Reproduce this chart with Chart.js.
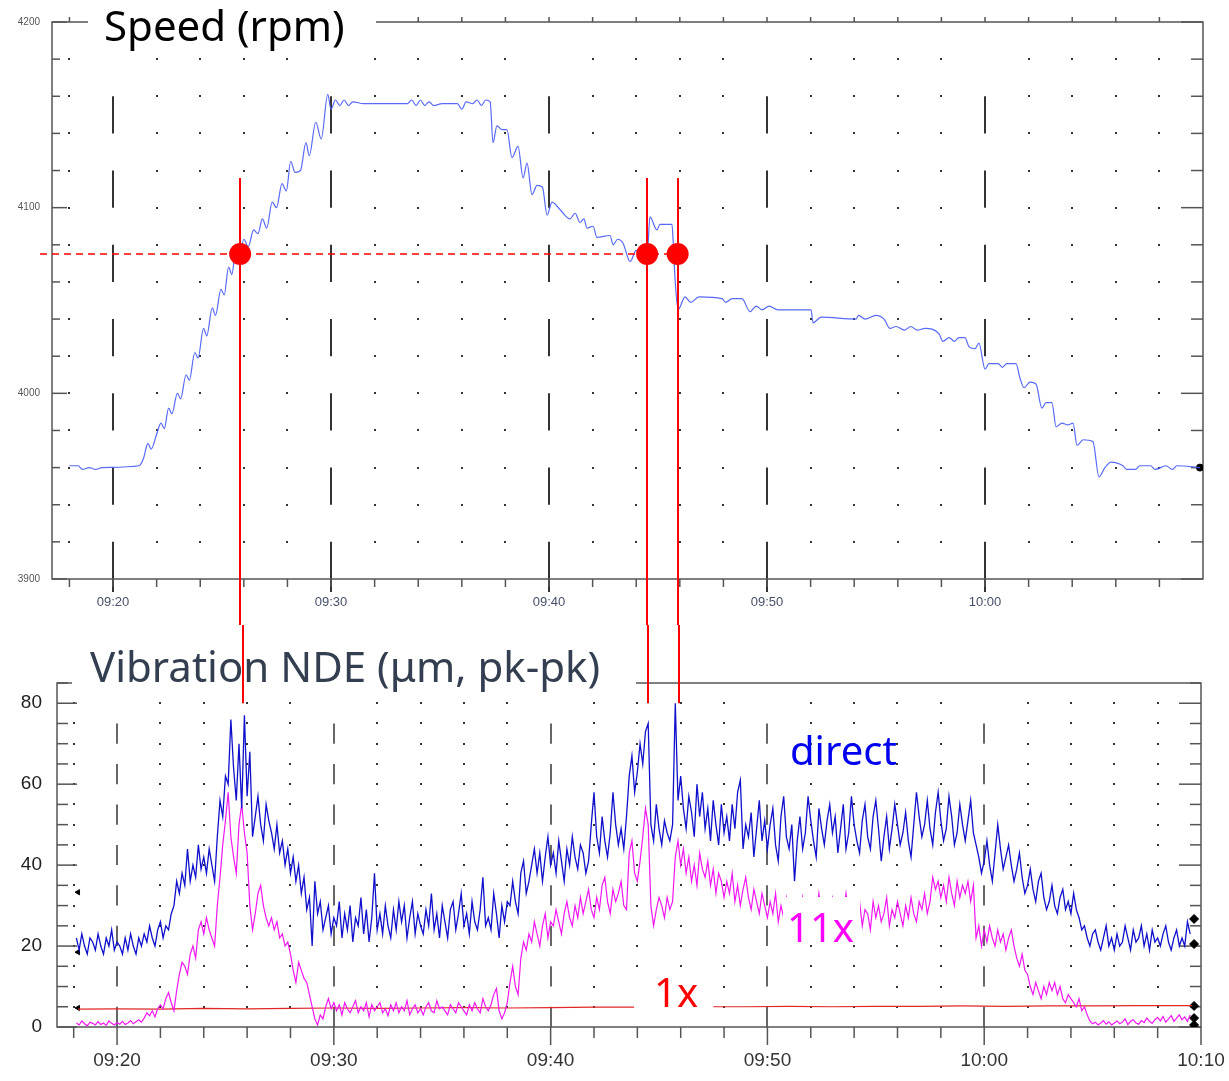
<!DOCTYPE html>
<html>
<head>
<meta charset="utf-8">
<script src="https://cdn.jsdelivr.net/npm/chart.js@4.4.1/dist/chart.umd.min.js"></script>
<style>
  body { margin: 0; background: #fff; width: 1229px; height: 1081px; overflow: hidden; position: relative; }
  .box { position: absolute; left: 0; width: 1229px; }
  #topBox { top: 0; height: 625px; }
  #botBox { top: 625px; height: 456px; }
</style>
</head>
<body>
<div class="box" id="topBox"><canvas id="speedChart"></canvas></div>
<div class="box" id="botBox"><canvas id="vibChart"></canvas></div>
<script>
// time is in minutes after 09:00

// --- speed (rpm) ---
const speedTimes = [
  18.0, 18.4, 18.6, 18.9, 19.2, 19.5, 21.2, 21.4, 21.6, 21.75,
  22.0, 22.2, 22.35, 22.55, 22.7, 22.95, 23.1, 23.35, 23.5, 23.75,
  23.9, 24.15, 24.3, 24.55, 24.7, 24.95, 25.1, 25.3, 25.45, 25.6,
  25.75, 26.0, 26.2, 26.45, 26.65, 26.85, 27.05, 27.3, 27.5, 27.75,
  27.95, 28.15, 28.35, 28.6, 28.85, 29.0, 29.3, 29.55, 29.85, 30.0,
  30.2, 30.4, 30.6, 30.8, 31.0, 31.5, 33.5, 33.7, 33.9, 34.1,
  34.3, 34.5, 34.7, 35.1, 35.8, 36.0, 36.2, 36.5, 36.7, 36.9,
  37.1, 37.3, 37.43, 37.61, 37.85, 38.07, 38.3, 38.58, 38.81, 38.99,
  39.22, 39.45, 39.7, 39.91, 40.14, 40.5, 40.96, 41.2, 41.42, 41.6,
  41.74, 42.02, 42.2, 42.8, 42.94, 43.15, 43.39, 43.72, 44.0, 44.17,
  44.5, 44.63, 44.95, 45.09, 45.64, 45.69, 45.78, 45.92, 46.24, 46.5,
  46.88, 47.94, 48.1, 48.4, 48.85, 49.22, 49.5, 49.77, 50.1, 50.5,
  52.02, 52.11, 52.48, 54.08, 54.2, 54.5, 55.0, 55.37, 55.64, 55.92,
  56.3, 56.6, 56.9, 57.25, 57.89, 58.07, 58.35, 58.6, 58.8, 59.08,
  59.27, 59.54, 59.72, 60.0, 60.18, 60.6, 60.8, 61.0, 61.42, 61.61,
  61.79, 62.06, 62.34, 62.61, 62.8, 63.07, 63.26, 63.53, 63.8, 64.04,
  64.22, 64.5, 64.95, 65.23, 65.5, 65.78, 66.33, 66.5, 66.9, 67.1,
  67.6, 67.8, 68.3, 68.6, 68.8, 69.86
];
const speedValues = [
  3961, 3961, 3959, 3960, 3959, 3960, 3961, 3965, 3973, 3970,
  3978, 3984, 3981, 3992, 3989, 4000, 3997, 4010, 4007, 4022,
  4019, 4035, 4031, 4046, 4042, 4056, 4053, 4068, 4064, 4074,
  4070, 4083, 4079, 4088, 4086, 4094, 4089, 4103, 4100, 4113,
  4109, 4125, 4119, 4120, 4135, 4128, 4146, 4137, 4161, 4153,
  4158, 4155, 4158, 4155, 4157, 4156, 4156, 4158, 4155, 4158,
  4155, 4157, 4155, 4156, 4156, 4153, 4157, 4156, 4158, 4155,
  4158, 4157, 4135, 4144, 4142, 4142, 4127, 4133, 4116, 4124,
  4107, 4112, 4111, 4096, 4103, 4099, 4094, 4097, 4092, 4094,
  4089, 4090, 4084, 4085, 4080, 4083, 4081, 4071, 4077, 4076,
  4074, 4095, 4088, 4091, 4091, 4083, 4062, 4045, 4052, 4049,
  4052, 4051, 4049, 4051, 4051, 4044, 4047, 4045, 4047, 4045,
  4045, 4038, 4041, 4040, 4042, 4040, 4042, 4040, 4035, 4036,
  4034, 4036, 4034, 4035, 4032, 4028, 4030, 4028, 4030, 4030,
  4025, 4024, 4027, 4013, 4016, 4016, 4014, 4016, 4016, 4008,
  4003, 4006, 4005, 3992, 3995, 3995, 3982, 3984, 3983, 3984,
  3972, 3975, 3974, 3955, 3960, 3963, 3961, 3959, 3959, 3961,
  3961, 3959, 3961, 3959, 3961, 3960
];
const speedTickTimes = [20, 30, 40, 50, 60];
const speedTicks = [3900, 4000, 4100, 4200];

// red markers: speed level crossed on run-up and run-down
const markSpeed = 4075;
const markTimes = [25.83, 44.5, 45.9];
const markLineTop = 4116;   // where the red verticals start (rpm)
const markLineEnd = 80;     // where they stop in the vibration plot (um)
const markDashStart = 16.65;

// --- vibration NDE (um pk-pk), one sample every 0.125 min from 09:18.125 ---
const vibStart = 18.125, vibStep = 0.125;
const directValues = [
  22, 19, 23, 20, 18, 22, 21, 19,   23, 20, 18, 22, 20, 24, 19, 21,
  20, 18, 22, 19, 23, 20, 18, 22,   20, 23, 21, 25, 22, 20, 24, 26,
  22, 25, 24, 28, 30, 36, 33, 38,   35, 44, 36, 40, 37, 45, 39, 42,
  38, 44, 40, 36, 47, 56, 52, 62,   60, 76, 64, 56, 70, 54, 77, 57,
  68, 47, 52, 57, 50, 46, 55, 51,   48, 44, 50, 43, 46, 40, 44, 38,
  42, 36, 40, 33, 37, 29, 32, 20,   36, 28, 31, 24, 27, 30, 23, 27,
  25, 31, 22, 28, 24, 30, 21, 27,   25, 32, 23, 29, 21, 27, 38, 24,
  28, 23, 30, 25, 22, 29, 24, 31,   26, 30, 22, 27, 31, 23, 28, 25,
  23, 29, 25, 33, 24, 28, 22, 30,   26, 22, 29, 31, 24, 28, 33, 25,
  28, 23, 31, 26, 24, 29, 37, 25,   27, 24, 33, 28, 22, 30, 26, 31,
  30, 36, 31, 28, 38, 41, 33, 36,   40, 44, 38, 43, 36, 42, 47, 40,
  43, 38, 46, 41, 36, 44, 40, 47,   42, 39, 45, 43, 38, 41, 50, 58,
  47, 43, 52, 46, 42, 48, 58, 50,   45, 49, 44, 52, 62, 67, 58, 63,
  70, 65, 73, 75, 50, 46, 55, 49,   45, 51, 48, 46, 50, 80, 56, 62,
  54, 49, 57, 53, 47, 60, 52, 58,   49, 54, 46, 56, 50, 45, 55, 48,
  52, 46, 55, 49, 58, 61, 44, 50,   47, 53, 42, 49, 56, 46, 51, 44,
  50, 54, 45, 41, 52, 57, 47, 44,   50, 36, 46, 52, 44, 48, 57, 51,
  46, 42, 54, 49, 45, 51, 55, 48,   52, 43, 49, 55, 44, 48, 57, 50,
  46, 43, 51, 55, 47, 44, 52, 56,   49, 41, 47, 52, 44, 49, 55, 50,
  45, 48, 53, 46, 42, 50, 58, 52,   47, 50, 56, 49, 45, 53, 58, 51,
  46, 49, 57, 52, 45, 48, 55, 50,   46, 51, 56, 48, 45, 42, 38, 41,
  46, 40, 36, 43, 50, 44, 39, 42,   45, 40, 36, 39, 43, 37, 33, 35,
  39, 34, 31, 36, 38, 32, 29, 31,   35, 30, 28, 32, 34, 29, 31, 28,
  33, 29, 27, 24, 25, 22, 20, 23,   24, 21, 19, 22, 25, 20, 22, 19,
  23, 20, 21, 25, 22, 19, 24, 21,   22, 25, 20, 23, 19, 24, 21, 22,
  20, 23, 25, 21, 19, 22, 24, 20,   22, 20, 26, 23
];
const elevenXValues = [
  1, 0.5, 1.5, 0.8, 0.3, 1.2, 0.9, 0.5,   1.3, 0.6, 1, 0.4, 1.5, 0.9, 0.5, 1.1,
  0.7, 1.4, 0.6, 1, 1.6, 0.8, 1.3, 1.8,   1.2, 2.2, 3.5, 2.8, 4, 2.5, 4.5, 5.5,
  4.5, 7, 8.5, 6, 4, 9, 13, 16,           15, 13, 18, 20, 17, 24, 26, 23,
  27, 24, 22, 20, 30, 37, 45, 51,         58, 47, 42, 38, 50, 55, 48, 43,
  30, 24, 28, 33, 35, 30, 27, 25,         27, 24, 26, 22, 23, 20, 21, 18,
  14, 11, 16, 14, 12, 11, 8, 5,           2, 0.5, 3, 2, 5, 7, 4.5, 6,
  4, 5.5, 3, 6, 4.5, 3.5, 5, 6.5,         3.5, 5, 4, 6, 2.5, 5.5, 4, 5,
  6, 3.5, 4.5, 2.8, 5.5, 4, 6, 3.5,       5, 4, 6.5, 3, 4.5, 5.5, 3.5, 4.5,
  3, 5, 6, 4, 3.5, 6.5, 4.5, 5,           4, 3, 5.5, 4.5, 3.5, 6, 5, 4,
  3, 5.5, 4, 6, 4.5, 3.5, 7, 5,           4, 5.5, 8, 9.5, 4, 2, 3.5, 6,
  11, 15, 10, 8, 17, 21, 19, 23,          21, 26, 23, 20, 25, 28, 22, 26,
  25, 29, 26, 23, 28, 31, 27, 25,         30, 27, 32, 28, 31, 34, 29, 27,
  32, 29, 35, 37, 31, 28, 34, 31,         33, 36, 30, 29, 43, 46, 38, 36,
  41, 47, 54, 50, 30, 25, 29, 32,         30, 27, 32, 29, 31, 42, 46, 40,
  44, 38, 42, 36, 40, 35, 43, 39,         37, 41, 35, 39, 33, 38, 36, 32,
  36, 33, 38, 31, 35, 30, 34, 37,         32, 29, 34, 31, 28, 33, 30, 27,
  31, 28, 33, 26, 30, 27, 32, 29,         27, 31, 29, 26, 32, 28, 30, 27,
  30, 27, 33, 28, 26, 31, 29, 32,         29, 26, 31, 28, 33, 27, 30, 29,
  27, 31, 25, 29, 28, 24, 31, 27,         30, 26, 28, 32, 25, 29, 27, 31,
  28, 25, 30, 27, 32, 28, 26, 31,         29, 33, 28, 31, 37, 34, 36, 32,
  35, 31, 37, 33, 30, 36, 32, 35,         33, 36, 31, 35, 22, 25, 20, 24,
  21, 25, 22, 20, 24, 21, 23, 19,         22, 24, 20, 17, 15, 18, 14, 13,
  10, 8, 11, 9, 7, 10, 8, 11,             9, 11, 8, 10, 7, 6, 8, 7,
  6, 5, 7, 4, 5, 3, 1.5, 0.8,             1.2, 0.5, 1, 1.6, 0.7, 1.3, 0.5, 1,
  1.5, 0.8, 1.2, 2, 0.6, 1.4, 1.8, 1,     0.7, 1.6, 1.1, 2.2, 1.4, 0.9, 1.8, 2.4,
  1.5, 2.6, 1.2, 2, 2.8, 1.4, 2.2, 3,     1.8, 2.5, 1.4, 3
];
const oneXTimes = [18.2, 20, 22, 24, 26, 28, 30, 32, 34, 36, 38, 40, 42, 43.85, 45.7,
  47.5, 49, 51, 53, 55, 57, 59, 61, 63, 65, 67, 69.6];
const oneXValues = [4.4, 4.5, 4.4, 4.6, 4.5, 4.6, 4.7, 4.6, 4.7, 4.8, 4.7, 4.8, 4.9, 4.9, null,
  5.0, 5.0, 5.1, 5.0, 5.1, 5.1, 5.2, 5.1, 5.2, 5.2, 5.3, 5.3];
const endMarkValues = [26.7, 20.5, 5.2, 2.2, 0.5];
const startMarkValues = [33.3, 18.5, 4.7];
const vibTickTimes = [20, 30, 40, 50, 60, 70];
const vibTicks = [0, 20, 40, 60, 80];

function fmtTime(m) {
  const h = 9 + Math.floor(m / 60), mm = Math.round(m % 60);
  return String(h).padStart(2, '0') + ':' + String(mm).padStart(2, '0');
}
function line(ctx, x1, y1, x2, y2) {
  ctx.beginPath(); ctx.moveTo(x1, y1); ctx.lineTo(x2, y2); ctx.stroke();
}
function whiteRect(ctx, x1, y1, x2, y2) {
  ctx.fillStyle = '#fff';
  ctx.fillRect(x1, y1, x2 - x1, y2 - y1);
}

const vibTimes = directValues.map((v, i) => vibStart + i * vibStep);
const TITLE_FONT = '"Noto Sans", sans-serif';
const TICK_FONT = '"Liberation Sans", Arial, sans-serif';

// speed chart: frame, dotted grid, ticks, title and red marks
const speedDeco = {
  id: 'speedDeco',
  beforeDatasetsDraw(chart) {
    const { ctx, chartArea: a, scales: { x, y } } = chart;
    ctx.save();
    ctx.fillStyle = '#333';
    for (let t = 18; t <= 70; t += 2) {
      if (t % 10 === 0) continue;
      const px = Math.round(x.getPixelForValue(t));
      if (px <= a.left || px >= a.right) continue;
      for (let v = 3920; v < 4200; v += 20) ctx.fillRect(px - 1, Math.round(y.getPixelForValue(v)) - 1, 2, 2);
    }
    ctx.strokeStyle = '#333'; ctx.lineWidth = 2;
    speedTickTimes.forEach(t => {
      const px = Math.round(x.getPixelForValue(t));
      for (let v = 3900; v < 4160; v += 40) line(ctx, px, y.getPixelForValue(v), px, y.getPixelForValue(v + 20));
      line(ctx, px, a.bottom, px, a.bottom + 13);
    });
    ctx.strokeStyle = '#555'; ctx.lineWidth = 1.5;
    ctx.strokeRect(a.left, a.top, a.right - a.left, a.bottom - a.top);
    for (let v = 3900; v <= 4200; v += 20) {
      const py = y.getPixelForValue(v), major = v % 100 === 0;
      line(ctx, a.left, py, a.left + (major ? 15 : 8), py);
      line(ctx, a.right, py, a.right - (major ? 22 : 12), py);
    }
    for (let t = 18; t <= 70; t += 2) {
      const px = x.getPixelForValue(t);
      if (px <= a.left || px >= a.right) continue;
      line(ctx, px, a.bottom, px, a.bottom + 8);
      line(ctx, px, a.top, px, a.top - 5);
    }
    ctx.restore();
  },
  afterDatasetsDraw(chart) {
    const { ctx, scales: { x, y } } = chart;
    ctx.save();
    whiteRect(ctx, 88, 0, 376, 50);
    ctx.font = '42px ' + TITLE_FONT;
    ctx.textBaseline = 'alphabetic';
    ctx.fillStyle = '#000';
    ctx.fillText('Speed (rpm)', 104, 41);
    const py = y.getPixelForValue(markSpeed);
    ctx.strokeStyle = '#ff0000';
    ctx.lineWidth = 1.5; ctx.setLineDash([7, 5]);
    line(ctx, x.getPixelForValue(markDashStart), py, x.getPixelForValue(markTimes[2]), py);
    ctx.setLineDash([]); ctx.lineWidth = 2;
    markTimes.forEach(t => {
      const px = Math.round(x.getPixelForValue(t));
      line(ctx, px, y.getPixelForValue(markLineTop), px, chart.height);
    });
    ctx.fillStyle = '#ff0000';
    markTimes.forEach(t => {
      ctx.beginPath(); ctx.arc(x.getPixelForValue(t), py, 11, 0, Math.PI * 2); ctx.fill();
    });
    ctx.restore();
  }
};

// vibration chart: frame, dotted grid, ticks, titles, labels and red marks
const vibDeco = {
  id: 'vibDeco',
  beforeDatasetsDraw(chart) {
    const { ctx, chartArea: a, scales: { x, y } } = chart;
    ctx.save();
    ctx.fillStyle = '#333';
    for (let t = 18; t <= 70; t += 2) {
      if (t % 10 === 0) continue;
      const px = Math.round(x.getPixelForValue(t));
      if (px <= a.left || px >= a.right) continue;
      for (let v = 5; v <= 80; v += 5) ctx.fillRect(px - 1, Math.round(y.getPixelForValue(v)) - 1, 2, 2);
    }
    ctx.strokeStyle = '#333'; ctx.lineWidth = 1.5;
    vibTickTimes.forEach(t => {
      const px = Math.round(x.getPixelForValue(t));
      if (px >= a.right) return;
      for (let v = 0; v < 80; v += 10) line(ctx, px, y.getPixelForValue(v), px, y.getPixelForValue(v + 5));
    });
    ctx.strokeStyle = '#555'; ctx.lineWidth = 1.5;
    ctx.strokeRect(a.left, a.top, a.right - a.left, a.bottom - a.top);
    for (let v = 0; v <= 85; v += 5) {
      const py = y.getPixelForValue(v), major = v % 20 === 0;
      line(ctx, a.left, py, a.left + (major ? 20 : 11), py);
      line(ctx, a.right, py, a.right - (major ? 22 : 11), py);
    }
    for (let t = 18; t <= 70; t += 2) {
      const px = x.getPixelForValue(t);
      if (px <= a.left) continue;
      line(ctx, px, a.bottom, px, a.bottom + (t % 10 === 0 ? 18 : 11));
    }
    // time labels drawn here so the last one can overhang the frame
    ctx.fillStyle = '#333';
    ctx.font = '19px ' + TICK_FONT;
    ctx.textAlign = 'center'; ctx.textBaseline = 'middle';
    vibTickTimes.forEach(t => ctx.fillText(fmtTime(t), x.getPixelForValue(t), a.bottom + 34));
    ctx.restore();
  },
  afterDatasetsDraw(chart) {
    const { ctx, scales: { x, y } } = chart;
    ctx.save();
    ctx.textBaseline = 'alphabetic';
    ctx.font = '42px ' + TITLE_FONT;
    whiteRect(ctx, 72, 0, 636, 62);
    ctx.fillStyle = '#333f50';
    ctx.fillText('Vibration NDE (\u03bcm, pk-pk)', 90, 57);
    ctx.font = '40px ' + TITLE_FONT;
    ctx.fillStyle = '#0000ee';
    ctx.fillText('direct', 790, 140);
    whiteRect(ctx, 783, 272, 860, 318);
    ctx.fillStyle = '#ff00ff';
    ctx.fillText('11x', 787, 317);
    whiteRect(ctx, 635, 350, 713, 390);
    ctx.fillStyle = '#ff0000';
    ctx.fillText('1x', 654, 382);
    ctx.strokeStyle = '#ff0000'; ctx.lineWidth = 2;
    markTimes.forEach(t => {
      const px = Math.round(x.getPixelForValue(t));
      line(ctx, px, 0, px, y.getPixelForValue(markLineEnd));
    });
    ctx.restore();
  }
};

function axisFit(size, isX) {
  return s => { if (isX) s.height = size; else s.width = size; };
}

new Chart(document.getElementById('speedChart'), {
  type: 'line',
  data: {
    datasets: [
      {
        data: speedTimes.map((t, i) => ({ x: t, y: speedValues[i] })),
        borderColor: 'rgba(70, 90, 245, 0.9)', borderWidth: 1.2,
        pointRadius: 0, cubicInterpolationMode: 'monotone'
      },
      {
        data: [{ x: speedTimes[speedTimes.length - 1], y: speedValues[speedValues.length - 1] }],
        showLine: false, pointRadius: 3.5, pointBackgroundColor: '#000', pointBorderColor: '#000'
      }
    ]
  },
  options: {
    responsive: true, maintainAspectRatio: false, animation: false,
    layout: { padding: { top: 22, right: 26, left: 0, bottom: 0 } },
    plugins: { legend: { display: false }, tooltip: { enabled: false } },
    scales: {
      x: {
        type: 'linear', min: 17.2, max: 70,
        afterBuildTicks: s => { s.ticks = speedTickTimes.map(v => ({ value: v })); },
        afterFit: axisFit(46, true),
        grid: { display: false }, border: { display: false },
        ticks: { callback: v => fmtTime(v), color: '#46506a', font: { family: TICK_FONT, size: 13 }, padding: 8, maxRotation: 0, autoSkip: false }
      },
      y: {
        min: 3900, max: 4200,
        afterBuildTicks: s => { s.ticks = speedTicks.map(v => ({ value: v })); },
        afterFit: axisFit(52, false),
        grid: { display: false }, border: { display: false },
        ticks: { callback: v => String(v), color: '#555', font: { family: TICK_FONT, size: 10 }, padding: 4 }
      }
    }
  },
  plugins: [speedDeco]
});

new Chart(document.getElementById('vibChart'), {
  type: 'line',
  data: {
    datasets: [
      {
        data: vibTimes.map((t, i) => ({ x: t, y: directValues[i] })),
        borderColor: '#1010cc', borderWidth: 1.3, pointRadius: 0
      },
      {
        data: vibTimes.map((t, i) => ({ x: t, y: elevenXValues[i] })),
        borderColor: '#f018f0', borderWidth: 1.2, pointRadius: 0
      },
      {
        data: oneXTimes.map((t, i) => ({ x: t, y: oneXValues[i] })),
        borderColor: '#e02828', borderWidth: 1.2, pointRadius: 0, spanGaps: false
      },
      {
        data: endMarkValues.map(v => ({ x: 69.68, y: v })),
        showLine: false, pointStyle: 'rectRot', pointRadius: 4.5,
        pointBackgroundColor: '#000', pointBorderColor: '#000'
      },
      {
        data: startMarkValues.map(v => ({ x: 18.2, y: v })),
        showLine: false, pointStyle: 'triangle', rotation: -90, pointRadius: 3,
        pointBackgroundColor: '#000', pointBorderColor: '#000'
      }
    ]
  },
  options: {
    responsive: true, maintainAspectRatio: false, animation: false,
    layout: { padding: { top: 58, right: 28, left: 0, bottom: 0 } },
    plugins: { legend: { display: false }, tooltip: { enabled: false } },
    scales: {
      x: {
        type: 'linear', min: 17.23, max: 70,
        afterBuildTicks: s => { s.ticks = vibTickTimes.map(v => ({ value: v })); },
        afterFit: axisFit(54, true),
        grid: { display: false }, border: { display: false },
        ticks: { display: false }
      },
      y: {
        min: 0, max: 85,
        afterBuildTicks: s => { s.ticks = vibTicks.map(v => ({ value: v })); },
        afterFit: axisFit(57, false),
        grid: { display: false }, border: { display: false },
        ticks: { color: '#222', font: { family: TICK_FONT, size: 19 }, padding: 7 }
      }
    }
  },
  plugins: [vibDeco]
});
</script>
</body>
</html>
